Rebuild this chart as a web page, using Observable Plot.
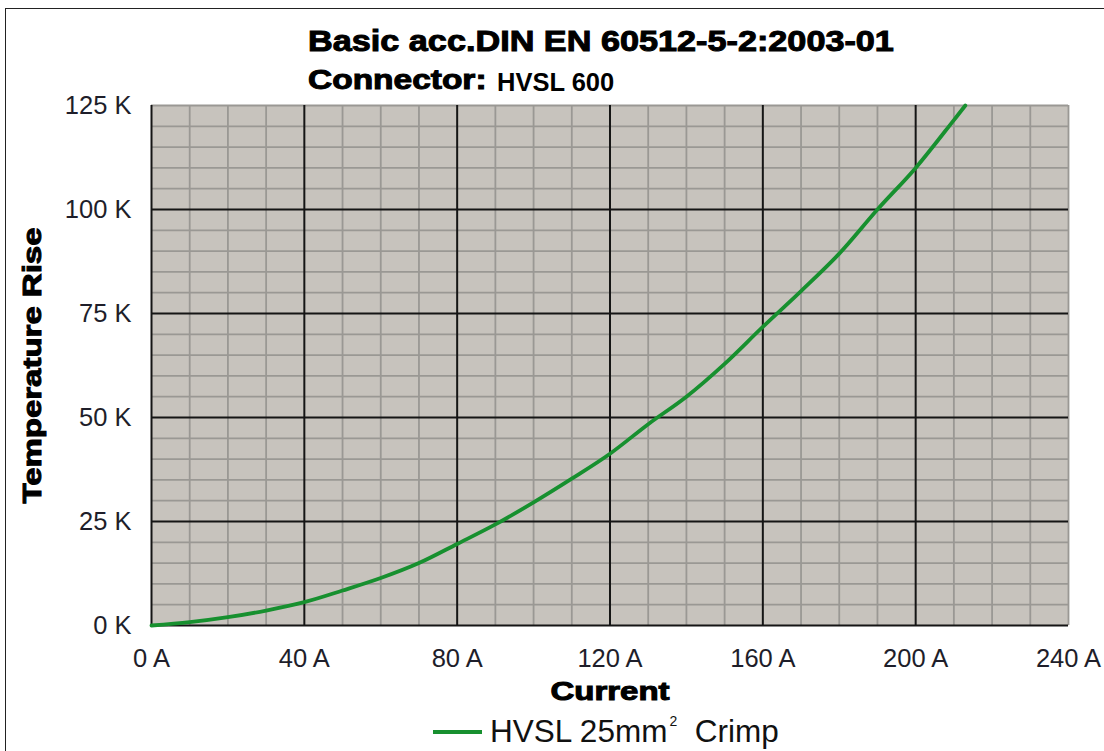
<!DOCTYPE html>
<html>
<head>
<meta charset="utf-8">
<script src="https://cdn.jsdelivr.net/npm/d3@7"></script>
<script src="https://cdn.jsdelivr.net/npm/@observablehq/plot@0.6"></script>
<style>
  html, body { margin: 0; padding: 0; background: #fff; width: 1104px; height: 751px; overflow: hidden; }
  body { position: relative; font-family: "Liberation Sans", Arial, sans-serif; }
  #border { position: absolute; left: 5px; top: 8px; width: 1120px; height: 780px; border: 1.5px solid #222; box-sizing: border-box; }
  .heavy { font-weight: 700; -webkit-text-stroke: 1px #000; color: #000; display: inline-block; transform-origin: 0 50%; }
  #title { position: absolute; left: 308px; top: 27px; font-size: 29px; line-height: 29px; white-space: nowrap; }
  #title .heavy { transform: scaleX(1.18); }
  #subtitle { position: absolute; left: 308px; top: 67px; font-size: 27px; line-height: 27px; white-space: nowrap; }
  #subtitle .heavy { transform: scaleX(1.24); }
  #subtitle .plain { position: absolute; left: 189px; top: 2px; font-weight: 700; font-size: 25.5px; color: #000; }
  #chart { position: absolute; left: 0; top: 85px; }
  #legend { position: absolute; left: 433px; top: 707px; font-size: 31.5px; line-height: 36px; white-space: nowrap; color: #111; }
  #legend .sw { display: inline-block; width: 49px; height: 4px; background: #17902f; vertical-align: middle; margin-right: 8px; position: relative; top: -1px; }
  #legend sup { font-size: 14px; position: relative; top: -4px; margin-left: 2px; }
  #chart g[aria-label="y-axis label"] text, #chart g[aria-label="x-axis label"] text {
    font-weight: 700; stroke: #000; stroke-width: 1px; fill: #000; font-size: 25px;
  }
  #chart g[aria-label="x-axis tick label"], #chart g[aria-label="y-axis tick label"],
  #chart g[aria-label="x-axis tick label"] text, #chart g[aria-label="y-axis tick label"] text {
    font-size: 25.5px; fill: #1e1e2a;
  }
</style>
</head>
<body>
<div id="border"></div>
<div id="title"><span class="heavy">Basic acc.DIN EN 60512-5-2:2003-01</span></div>
<div id="subtitle"><span class="heavy">Connector:</span><span class="plain">HVSL 600</span></div>
<div id="chart"></div>
<div id="legend"><span class="sw"></span>HVSL 25mm<sup>2</sup>&nbsp; Crimp</div>
<script>
// Data
const currentA = [0, 10, 20, 30, 40, 50, 60, 70, 80, 90, 100, 110, 120, 130, 140, 150, 160, 170, 180, 190, 200, 210, 213];
const riseK    = [0, 0.8, 2.0, 3.6, 5.6, 8.4, 11.4, 15.0, 19.6, 24.3, 29.6, 35.3, 41.3, 48.4, 55.0, 62.9, 71.8, 80.4, 89.4, 100, 110, 121.5, 125];
const seriesName = "HVSL 25mm² Crimp";

const xTicks = [0, 40, 80, 120, 160, 200, 240];
const yTicks = [0, 25, 50, 75, 100, 125];
const xMajorLines = [0, 40, 80, 120, 160, 200];
const yMajorLines = [0, 25, 50, 75, 100];
const xMinorLines = [10, 20, 30, 50, 60, 70, 90, 100, 110, 130, 140, 150, 170, 180, 190, 210, 220, 230, 240];
const yMinorLines = [5, 10, 15, 20, 30, 35, 40, 45, 55, 60, 65, 70, 80, 85, 90, 95, 105, 110, 115, 120, 125];

const table = currentA.map((c, i) => ({current: c, rise: riseK[i], series: seriesName}));

const chart = Plot.plot({
  width: 1104,
  height: 620,
  marginLeft: 151,
  marginRight: 36,
  marginTop: 20,
  marginBottom: 80,
  style: {fontFamily: "'Liberation Sans', Arial, sans-serif", fontSize: "25px", color: "#1e1e2a", background: "transparent", overflow: "visible"},
  x: {domain: [0, 240]},
  y: {domain: [0, 125]},
  marks: [
    Plot.frame({fill: "#c7c3bd", stroke: null}),
    Plot.ruleX(xMinorLines, {stroke: "#9a9894", strokeWidth: 1.8}),
    Plot.ruleY(yMinorLines, {stroke: "#9a9894", strokeWidth: 1.8}),
    Plot.ruleX(xMajorLines, {stroke: "#151515", strokeWidth: 2}),
    Plot.ruleY(yMajorLines, {stroke: "#151515", strokeWidth: 2}),
    Plot.line(table, {x: "current", y: "rise", stroke: "#17902f", strokeWidth: 3.8, curve: "catmull-rom"}),
    Plot.axisX({ticks: xTicks, tickFormat: d => `${d} A`, tickSize: 0, tickPadding: 23,
      label: "Current", labelAnchor: "center", labelArrow: "none", labelOffset: 74}),
    Plot.axisY({ticks: yTicks, tickFormat: d => `${d} K`, tickSize: 0, tickPadding: 20,
      label: "Temperature Rise", labelAnchor: "center", labelArrow: "none", labelOffset: 128})
  ]
});
document.getElementById("chart").appendChild(chart);
const xl = chart.querySelector('g[aria-label="x-axis label"] text');
if (xl) { xl.setAttribute("textLength", 119); xl.setAttribute("lengthAdjust", "spacingAndGlyphs"); }
const yl = chart.querySelector('g[aria-label="y-axis label"] text');
if (yl) { yl.setAttribute("textLength", 276); yl.setAttribute("lengthAdjust", "spacingAndGlyphs"); }
</script>
</body>
</html>
